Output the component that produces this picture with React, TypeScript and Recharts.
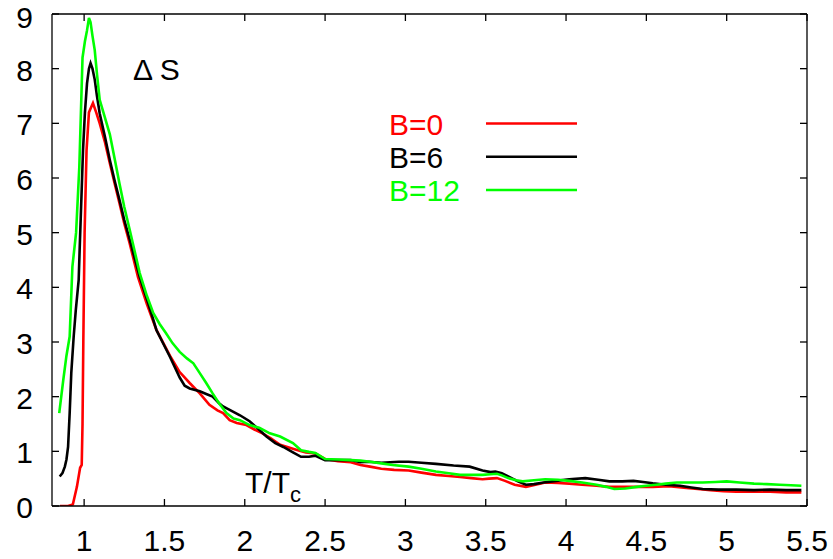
import React from 'react';
import { LineChart, Line, XAxis, YAxis, Legend } from 'recharts';

const W = 833;
const H = 559;
const FONT = '"Liberation Sans", Arial, Helvetica, sans-serif';

const xTicks = [1, 1.5, 2, 2.5, 3, 3.5, 4, 4.5, 5, 5.5];
const yTicks = [0, 1, 2, 3, 4, 5, 6, 7, 8, 9];
const seriesNames = ['B=0', 'B=6', 'B=12'];
const seriesColors = ['#ff0000', '#000000', '#00ff00'];

// B=0
const tB0 = [0.85, 0.87, 0.9, 0.93, 0.955, 0.975, 0.985, 0.99, 0.995, 1.003, 1.015, 1.03, 1.055, 1.075, 1.097, 1.13, 1.16, 1.19, 1.22, 1.25, 1.284, 1.335, 1.39, 1.45, 1.534, 1.595, 1.657, 1.72, 1.78, 1.83, 1.865, 1.906, 1.95, 2.01, 2.06, 2.11, 2.16, 2.22, 2.32, 2.38, 2.44, 2.5, 2.58, 2.66, 2.72, 2.78, 2.85, 2.93, 3.02, 3.1, 3.19, 3.27, 3.34, 3.41, 3.48, 3.52, 3.57, 3.62, 3.68, 3.75, 3.81, 3.87, 3.95, 4.02, 4.1, 4.19, 4.27, 4.35, 4.45, 4.54, 4.64, 4.75, 4.82, 4.9, 4.98, 5.06, 5.17, 5.27, 5.37, 5.465];
const sB0 = [0.0, 0.0, 0.0, 0.03, 0.35, 0.7, 0.75, 1.5, 3.0, 5.0, 6.5, 7.2, 7.37, 7.2, 7.0, 6.65, 6.27, 5.9, 5.54, 5.17, 4.8, 4.19, 3.7, 3.22, 2.75, 2.45, 2.25, 2.06, 1.85, 1.75, 1.7, 1.57, 1.52, 1.48, 1.4, 1.33, 1.24, 1.12, 1.03, 0.98, 0.96, 0.86, 0.82, 0.8, 0.75, 0.72, 0.68, 0.66, 0.65, 0.61, 0.57, 0.55, 0.53, 0.51, 0.49, 0.5, 0.51, 0.46, 0.39, 0.35, 0.39, 0.43, 0.42, 0.41, 0.39, 0.37, 0.35, 0.35, 0.35, 0.35, 0.36, 0.33, 0.31, 0.29, 0.27, 0.26, 0.26, 0.26, 0.25, 0.25];

// B=6
const tB6 = [0.848, 0.865, 0.88, 0.89, 0.9, 0.91, 0.92, 0.935, 0.948, 0.966, 0.972, 0.985, 0.993, 1.005, 1.018, 1.03, 1.04, 1.052, 1.066, 1.08, 1.097, 1.13, 1.16, 1.19, 1.22, 1.25, 1.284, 1.346, 1.4, 1.45, 1.534, 1.595, 1.626, 1.657, 1.72, 1.76, 1.8, 1.84, 1.865, 1.906, 1.97, 2.03, 2.08, 2.135, 2.19, 2.24, 2.3, 2.35, 2.4, 2.44, 2.5, 2.58, 2.66, 2.72, 2.77, 2.85, 2.96, 3.02, 3.1, 3.19, 3.3, 3.4, 3.48, 3.53, 3.56, 3.6, 3.64, 3.7, 3.75, 3.8, 3.86, 3.94, 4.02, 4.12, 4.2, 4.27, 4.35, 4.42, 4.48, 4.54, 4.62, 4.71, 4.78, 4.85, 4.95, 5.06, 5.17, 5.27, 5.37, 5.465];
const sB6 = [0.54, 0.6, 0.72, 0.85, 1.08, 1.7, 2.43, 3.1, 3.58, 4.13, 4.68, 5.8, 6.5, 7.2, 7.73, 8.0, 8.1, 8.0, 7.8, 7.5, 7.18, 6.75, 6.33, 5.95, 5.6, 5.23, 4.87, 4.19, 3.7, 3.22, 2.73, 2.35, 2.2, 2.15, 2.1, 2.05, 2.0, 1.88, 1.82, 1.76, 1.66, 1.55, 1.42, 1.27, 1.15, 1.08, 0.98, 0.9, 0.9, 0.92, 0.84, 0.84, 0.84, 0.8, 0.81, 0.79, 0.81, 0.81, 0.79, 0.77, 0.74, 0.72, 0.65, 0.62, 0.63, 0.6, 0.54, 0.45, 0.39, 0.4, 0.43, 0.46, 0.49, 0.51, 0.48, 0.45, 0.45, 0.46, 0.44, 0.415, 0.39, 0.37, 0.34, 0.31, 0.3, 0.3, 0.29, 0.3, 0.29, 0.29];

// B=12
const tB12 = [0.845, 0.87, 0.89, 0.91, 0.927, 0.95, 0.97, 0.99, 1.005, 1.018, 1.03, 1.04, 1.052, 1.066, 1.08, 1.097, 1.13, 1.16, 1.19, 1.22, 1.25, 1.284, 1.346, 1.39, 1.43, 1.47, 1.51, 1.55, 1.595, 1.64, 1.68, 1.72, 1.76, 1.8, 1.84, 1.886, 1.93, 1.97, 2.03, 2.09, 2.156, 2.22, 2.3, 2.35, 2.4, 2.44, 2.5, 2.58, 2.66, 2.72, 2.78, 2.85, 2.92, 3.02, 3.1, 3.19, 3.27, 3.34, 3.41, 3.48, 3.53, 3.57, 3.6, 3.64, 3.69, 3.73, 3.8, 3.87, 3.95, 4.02, 4.1, 4.19, 4.25, 4.3, 4.37, 4.44, 4.5, 4.56, 4.62, 4.69, 4.77, 4.85, 4.93, 5.0, 5.08, 5.17, 5.25, 5.33, 5.4, 5.465];
const sB12 = [1.7, 2.3, 2.75, 3.1, 4.38, 5.0, 6.2, 8.2, 8.5, 8.7, 8.93, 8.85, 8.6, 8.34, 7.9, 7.43, 7.1, 6.8, 6.35, 5.9, 5.47, 5.05, 4.26, 3.85, 3.53, 3.33, 3.16, 2.98, 2.82, 2.7, 2.61, 2.43, 2.25, 2.06, 1.88, 1.7, 1.6, 1.57, 1.48, 1.43, 1.33, 1.27, 1.15, 1.02, 0.99, 0.97, 0.86, 0.85, 0.84, 0.83, 0.81, 0.78, 0.75, 0.72, 0.68, 0.63, 0.6, 0.57, 0.57, 0.57, 0.58, 0.59, 0.56, 0.51, 0.47, 0.45, 0.47, 0.49, 0.48, 0.46, 0.43, 0.39, 0.35, 0.31, 0.32, 0.35, 0.37, 0.39, 0.41, 0.43, 0.43, 0.43, 0.44, 0.45, 0.43, 0.41, 0.4, 0.39, 0.38, 0.37];

const toPoints = (xs: number[], ys: number[]) => xs.map((t, i) => ({ t, s: ys[i] }));
const seriesData = [toPoints(tB0, sB0), toPoints(tB6, sB6), toPoints(tB12, sB12)];

const TICK_LEN = 7;
const AXIS_W = 1.3;

// Custom ticks: with tickSize=0 and tickMargin=0, (x, y) is the point on the axis line.
const BottomTick = (p: any) => (
  <g>
    <line x1={p.x} x2={p.x} y1={p.y} y2={p.y - TICK_LEN} stroke="#000" strokeWidth={AXIS_W} />
    <text x={p.x} y={p.y + 45} textAnchor="middle" fontSize={30} fontFamily={FONT} fill="#000">
      {String(p.payload.value)}
    </text>
  </g>
);
const TopTick = (p: any) => (
  <line x1={p.x} x2={p.x} y1={p.y} y2={p.y + TICK_LEN} stroke="#000" strokeWidth={AXIS_W} />
);
const LeftTick = (p: any) => (
  <g>
    <line x1={p.x} x2={p.x + TICK_LEN} y1={p.y} y2={p.y} stroke="#000" strokeWidth={AXIS_W} />
    <text x={p.x - 19} y={Math.max(p.y + 12, 27.5)} textAnchor="end" fontSize={30} fontFamily={FONT} fill="#000">
      {String(p.payload.value)}
    </text>
  </g>
);
const RightTick = (p: any) => (
  <line x1={p.x} x2={p.x - TICK_LEN} y1={p.y} y2={p.y} stroke="#000" strokeWidth={AXIS_W} />
);

const LegendBox = (props: any) => {
  const payload = [...(props.payload || [])].sort(
    (a: any, b: any) => seriesNames.indexOf(a.value) - seriesNames.indexOf(b.value)
  );
  return (
    <svg width={220} height={110} style={{ display: 'block' }}>
      {payload.map((e: any, i: number) => (
        <g key={i}>
          <text x={9} y={34.5 + i * 33.3} fill={e.color} fontSize={30} fontFamily={FONT}>
            {e.value}
          </text>
          <line x1={106} x2={197} y1={23.5 + i * 33.3} y2={23.5 + i * 33.3} stroke={e.color} strokeWidth={2.5} />
        </g>
      ))}
    </svg>
  );
};

export default function App() {
  return (
    <div style={{ position: 'absolute', left: 0, top: 0, width: W, height: H, background: '#fff', fontFamily: FONT }}>
      <LineChart width={W} height={H} margin={{ top: 13, right: 25, bottom: 0, left: 0 }}>
        <XAxis
          type="number"
          dataKey="t"
          domain={[0.8, 5.5]}
          ticks={xTicks}
          interval={0}
          allowDataOverflow
          height={53}
          tickSize={0}
          tickMargin={0}
          tickLine={false}
          stroke="#000"
          strokeWidth={AXIS_W}
          tick={<BottomTick />}
        />
        <XAxis
          xAxisId="top"
          orientation="top"
          type="number"
          dataKey="t"
          domain={[0.8, 5.5]}
          ticks={xTicks}
          interval={0}
          allowDataOverflow
          height={1}
          tickSize={0}
          tickMargin={0}
          tickLine={false}
          stroke="#000"
          strokeWidth={AXIS_W}
          tick={<TopTick />}
        />
        <YAxis
          type="number"
          domain={[0, 9]}
          ticks={yTicks}
          interval={0}
          allowDataOverflow
          width={52}
          tickSize={0}
          tickMargin={0}
          tickLine={false}
          stroke="#000"
          strokeWidth={AXIS_W}
          tick={<LeftTick />}
        />
        <YAxis
          yAxisId="right"
          orientation="right"
          type="number"
          domain={[0, 9]}
          ticks={yTicks}
          interval={0}
          allowDataOverflow
          width={1}
          tickSize={0}
          tickMargin={0}
          tickLine={false}
          stroke="#000"
          strokeWidth={AXIS_W}
          tick={<RightTick />}
        />
        {seriesData.map((d, i) => (
          <Line
            key={seriesNames[i]}
            data={d}
            dataKey="s"
            name={seriesNames[i]}
            type="linear"
            stroke={seriesColors[i]}
            strokeWidth={2.6}
            dot={false}
            activeDot={false}
            isAnimationActive={false}
          />
        ))}
        <Legend
          layout="horizontal"
          verticalAlign="middle"
          align="center"
          content={<LegendBox />}
          wrapperStyle={{ position: 'absolute', left: 380, top: 100, width: 220, height: 110, margin: 0, padding: 0 }}
        />
      </LineChart>
      <svg width={W} height={H} style={{ position: 'absolute', left: 0, top: 0, pointerEvents: 'none' }}>
        <text x={133} y={80} fontSize={30} fontFamily={FONT} fill="#000">Δ S</text>
        <text x={245} y={493} fontSize={30} fontFamily={FONT} fill="#000">
          T/T<tspan fontSize={22} dy={9}>c</tspan>
        </text>
      </svg>
    </div>
  );
}
